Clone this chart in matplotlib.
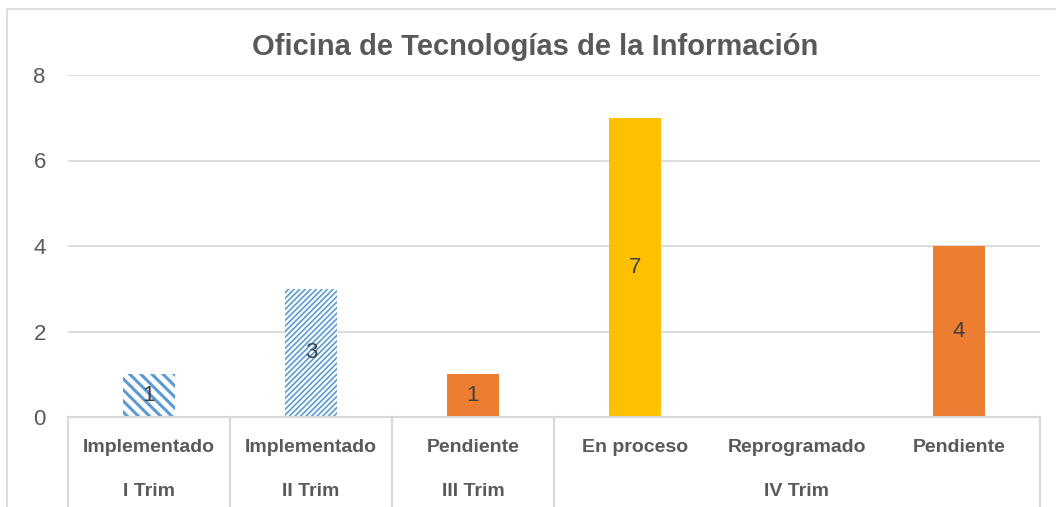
import matplotlib.pyplot as plt
from matplotlib.patches import Rectangle
from matplotlib.transforms import blended_transform_factory

# chart data
statuses = ["Implementado", "Implementado", "Pendiente", "En proceso", "Reprogramado", "Pendiente"]
quarters = ["I Trim", "II Trim", "III Trim", "IV Trim"]
quarter_spans = [(0, 0), (1, 1), (2, 2), (3, 5)]
values = [1, 3, 1, 7, 0, 4]
y_ticks = [0, 2, 4, 6, 8]

BLUE = "#5B9BD5"
ORANGE = "#ED7D31"
GOLD = "#FFC000"
TEXT = "#595959"
GRID = "#D9D9D9"
FONT = "Liberation Sans"

bar_styles = [
    dict(facecolor="white", edgecolor=BLUE, hatch="\\\\\\", hlw=2.2),
    dict(facecolor="white", edgecolor=BLUE, hatch="//////", hlw=1.2),
    dict(facecolor=ORANGE, edgecolor=ORANGE, hatch=None, hlw=1.0),
    dict(facecolor=GOLD, edgecolor=GOLD, hatch=None, hlw=1.0),
    dict(facecolor=GOLD, edgecolor=GOLD, hatch=None, hlw=1.0),
    dict(facecolor=ORANGE, edgecolor=ORANGE, hatch=None, hlw=1.0),
]

W, H = 1056, 507
fig = plt.figure(figsize=(W / 100, H / 100), dpi=100)
fig.patch.set_facecolor("white")

# outer chart border
fig.add_artist(Rectangle((7 / W, -0.1), 1.2, (H - 9) / H + 0.1, transform=fig.transFigure,
                         fill=False, edgecolor="#D9D9D9", linewidth=1.2))

left, right, y0, y8 = 68, 1040, 417, 75
ax = fig.add_axes([left / W, (H - y0) / H, (right - left) / W, (y0 - y8) / H])
ax.set_xlim(-0.5, len(values) - 0.5)
ax.set_ylim(0, 8)
for s in ax.spines.values():
    s.set_visible(False)
ax.set_yticks(y_ticks)
ax.set_yticklabels([str(t) for t in y_ticks], fontsize=16, color=TEXT, family=FONT)
ax.tick_params(axis="y", length=0, pad=16)
ax.set_xticks([])
ax.grid(axis="y", color=GRID, linewidth=1.3)
ax.set_axisbelow(True)

for i, (v, st) in enumerate(zip(values, bar_styles)):
    if v == 0:
        continue
    plt.rcParams["hatch.linewidth"] = st["hlw"]
    b = ax.bar(i, v, width=0.315, facecolor=st["facecolor"], edgecolor=st["edgecolor"],
               hatch=st["hatch"], linewidth=0)[0]
    if hasattr(b, "set_hatch_linewidth"):
        b.set_hatch_linewidth(st["hlw"])
    ax.text(i, v / 2, str(v), ha="center", va="center", fontsize=16, color="#404040",
            family=FONT)

# multi-level category axis
tr = blended_transform_factory(ax.transData, ax.transAxes)
span = y0 - y8
row1 = -(447 - y0) / span
row2 = -(492 - y0) / span
bottom = -(H + 5 - y0) / span
ax.plot([-0.5, len(values) - 0.5], [0, 0], transform=tr, color=GRID, linewidth=1.5, clip_on=False)
for i, lab in enumerate(statuses):
    ax.text(i, row1, lab, transform=tr, ha="center", va="center", fontsize=14,
            fontweight="bold", color=TEXT, family=FONT)
for q, (a, b) in zip(quarters, quarter_spans):
    ax.text((a + b) / 2, row2, q, transform=tr, ha="center", va="center", fontsize=14,
            fontweight="bold", color=TEXT, family=FONT)
    for xb in (a - 0.5, b + 0.5):
        ax.plot([xb, xb], [0, bottom], transform=tr, color=GRID, linewidth=1.5, clip_on=False)

fig.text(535 / W, 1 - 47 / H, "Oficina de Tecnologías de la Información", ha="center", va="center",
         fontsize=21, fontweight="bold", color=TEXT, family=FONT)

fig.savefig("out.png", dpi=100, facecolor="white")
